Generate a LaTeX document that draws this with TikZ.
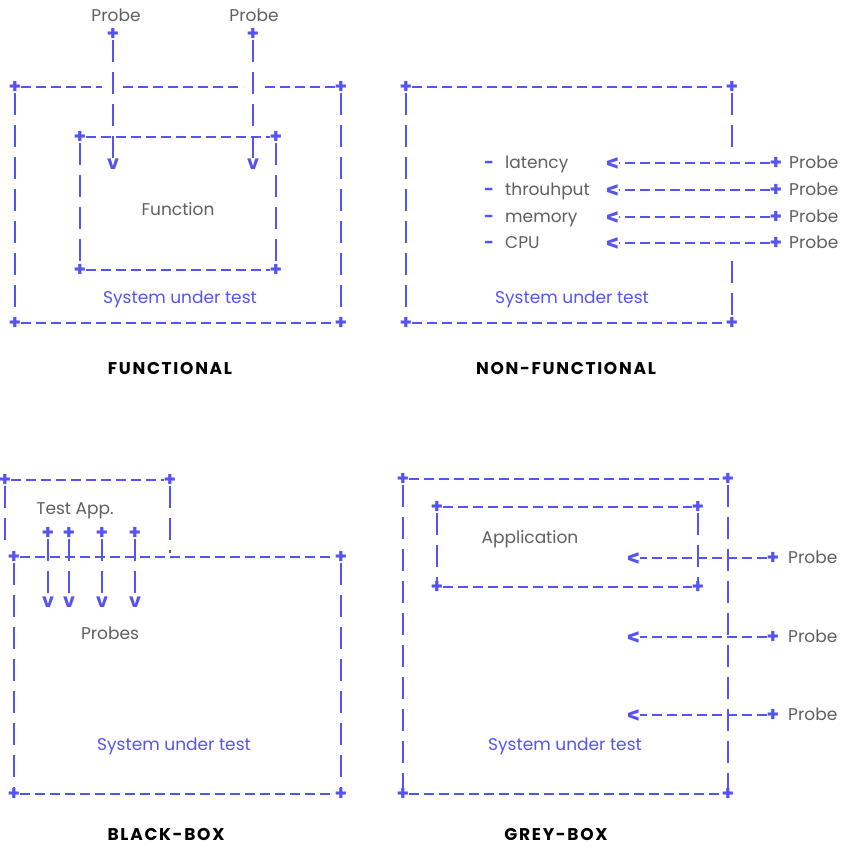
\documentclass[tikz,border=0pt]{standalone}
\usepackage{fontspec}
\setmainfont{Poppins}
\usetikzlibrary{positioning}
\definecolor{probeblue}{RGB}{86,84,240}
\definecolor{labelgray}{RGB}{95,95,95}
\tikzstyle{plusnode} = [text=probeblue, inner sep=0pt, font=\fontsize{20}{20}\selectfont\bfseries]
\tikzstyle{headnode} = [text=probeblue, inner sep=0pt, font=\fontsize{19}{19}\selectfont\bfseries]
\tikzstyle{lefthead} = [headnode, rotate=-90]
\tikzstyle{hline} = [probeblue, line width=1.7pt, dash pattern=on 10pt off 5pt]
\tikzstyle{vline} = [probeblue, line width=1.7pt, dash pattern=on 22pt off 10pt]
\tikzstyle{graytext} = [text=labelgray, inner sep=0pt, text height=1em, text depth=0pt, font=\fontsize{17}{17}\selectfont]
\tikzstyle{suttext} = [graytext, text=probeblue]
\tikzstyle{titletext} = [inner sep=0pt, text height=1em, text depth=0pt, font=\fontsize{17}{17}\selectfont\bfseries\addfontfeatures{LetterSpace=10}]

\begin{document}
\begin{tikzpicture}[x=1pt, y=-1pt]
  \useasboundingbox (0,0) rectangle (852,847);

  % functional
  \node[plusnode] (f_nw) at (15,87) {+};
  \node[plusnode] (f_ne) at (341,87) {+};
  \node[plusnode] (f_sw) at (15,323) {+};
  \node[plusnode] (f_se) at (341,323) {+};
  \coordinate (f_gap1) at (102,87);
  \coordinate (f_gap2) at (123,87);
  \coordinate (f_gap3) at (243,87);
  \coordinate (f_gap4) at (265,87);
  \draw[hline] (f_nw) -- (f_gap1);
  \draw[hline] (f_gap2) -- (f_gap3);
  \draw[hline] (f_gap4) -- (f_ne);
  \draw[hline] (f_sw) -- (f_se);
  \draw[vline] (f_nw) -- (f_sw);
  \draw[vline] (f_ne) -- (f_se);

  \node[plusnode] (fn_nw) at (80,137) {+};
  \node[plusnode] (fn_ne) at (276,137) {+};
  \node[plusnode] (fn_sw) at (80,270) {+};
  \node[plusnode] (fn_se) at (276,270) {+};
  \draw[hline] (fn_nw) -- (fn_ne);
  \draw[hline] (fn_sw) -- (fn_se);
  \draw[vline] (fn_nw) -- (fn_sw);
  \draw[vline] (fn_ne) -- (fn_se);

  \node[plusnode] (fp1) at (113,34) {+};
  \node[plusnode] (fp2) at (253,34) {+};
  \node[graytext] at (116,16) {Probe};
  \node[graytext] at (254,16) {Probe};
  \node[headnode] (fv1) at (113,164) {v};
  \node[headnode] (fv2) at (253,164) {v};
  \draw[vline] (fp1) -- (fv1);
  \draw[vline] (fp2) -- (fv2);

  \node[graytext] (func) at (178,210) {Function};
  \node[suttext] (f_sut) at (180,298) {System under test};
  \node[titletext] (f_title) at (170,369) {FUNCTIONAL};

  % non-functional
  \node[plusnode] (n_nw) at (406,87) {+};
  \node[plusnode] (n_ne) at (732,87) {+};
  \node[plusnode] (n_sw) at (406,323) {+};
  \node[plusnode] (n_se) at (732,323) {+};
  \coordinate (n_gap1) at (732,151);
  \coordinate (n_gap2) at (732,261);
  \draw[hline] (n_nw) -- (n_ne);
  \draw[hline] (n_sw) -- (n_se);
  \draw[vline] (n_nw) -- (n_sw);
  \draw[vline] (n_ne) -- (n_gap1);
  \draw[vline] (n_gap2) -- (n_se);

  \foreach \y/\metric [count=\i] in {163/latency, 190/throuhput, 217/memory, 243/CPU} {
    \node[suttext, font=\fontsize{17}{17}\selectfont\bfseries] (nd\i) at (489,\y) {-};
    \node[graytext, anchor=west] (nm\i) at (505,\y) {\metric};
    \node[lefthead] (nh\i) at (613,\y) {v};
    \node[plusnode] (np\i) at (776,\y) {+};
    \node[graytext, anchor=west] (nl\i) at (789,\y) {Probe};
    \draw[hline] (np\i) -- (nh\i);
  }

  \node[suttext] (n_sut) at (572,298) {System under test};
  \node[titletext] (n_title) at (566,369) {NON-FUNCTIONAL};

  % black-box
  \node[plusnode] (t_nw) at (5,480) {+};
  \node[plusnode] (t_ne) at (170,480) {+};
  \coordinate (t_sw) at (5,546);
  \coordinate (t_se) at (170,553);
  \draw[hline] (t_nw) -- (t_ne);
  \draw[vline] (t_nw) -- (t_sw);
  \draw[vline] (t_ne) -- (t_se);
  \node[graytext] (testapp) at (75,509) {Test App.};

  \node[plusnode] (b_nw) at (14,557) {+};
  \node[plusnode] (b_ne) at (341,557) {+};
  \node[plusnode] (b_sw) at (14,794) {+};
  \node[plusnode] (b_se) at (341,794) {+};
  \draw[hline] (b_nw) -- (b_ne);
  \draw[hline] (b_sw) -- (b_se);
  \draw[vline] (b_nw) -- (b_sw);
  \draw[vline] (b_ne) -- (b_se);

  \foreach \x [count=\i] in {48,69,102,135} {
    \node[plusnode] (bp\i) at (\x,533) {+};
    \node[headnode] (bv\i) at (\x,602) {v};
    \draw[vline] (bp\i) -- (bv\i);
  }

  \node[graytext] (probes) at (110,634) {Probes};
  \node[suttext] (b_sut) at (174,745) {System under test};
  \node[titletext] (b_title) at (166,835) {BLACK-BOX};

  % grey-box
  \node[plusnode] (g_nw) at (403,479) {+};
  \node[plusnode] (g_ne) at (728,479) {+};
  \node[plusnode] (g_sw) at (403,794) {+};
  \node[plusnode] (g_se) at (728,794) {+};
  \draw[hline] (g_nw) -- (g_ne);
  \draw[hline] (g_sw) -- (g_se);
  \draw[vline] (g_nw) -- (g_sw);
  \draw[vline] (g_ne) -- (g_se);

  \node[plusnode] (ga_nw) at (437,507) {+};
  \node[plusnode] (ga_ne) at (698,507) {+};
  \node[plusnode] (ga_sw) at (437,587) {+};
  \node[plusnode] (ga_se) at (698,587) {+};
  \draw[hline] (ga_nw) -- (ga_ne);
  \draw[hline] (ga_sw) -- (ga_se);
  \draw[vline] (ga_nw) -- (ga_sw);
  \draw[vline] (ga_ne) -- (ga_se);
  \node[graytext] (app) at (530,538) {Application};

  \foreach \y [count=\i] in {558,637,715} {
    \node[lefthead] (gh\i) at (634,\y) {v};
    \node[plusnode] (gp\i) at (773,\y) {+};
    \node[graytext, anchor=west] (gl\i) at (788,\y) {Probe};
    \draw[hline] (gp\i) -- (gh\i);
  }

  \node[suttext] (g_sut) at (565,745) {System under test};
  \node[titletext] (g_title) at (556,835) {GREY-BOX};
\end{tikzpicture}
\end{document}
